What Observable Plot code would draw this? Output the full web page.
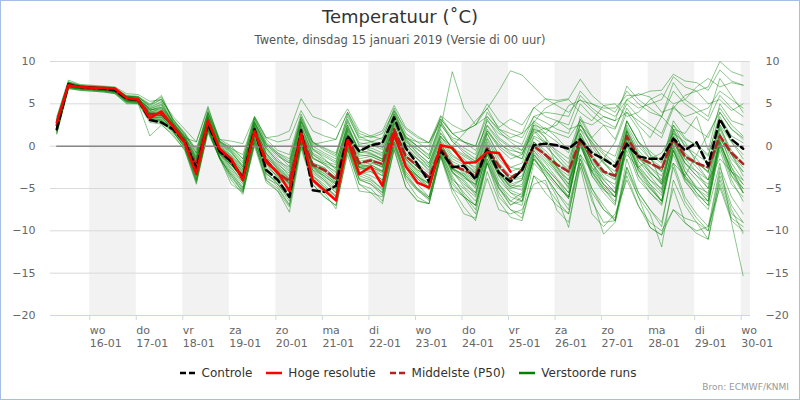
<!DOCTYPE html>
<html><head><meta charset="utf-8">
<script src="https://cdn.jsdelivr.net/npm/d3@7"></script>
<script src="https://cdn.jsdelivr.net/npm/@observablehq/plot@0.6"></script>
<style>
body{margin:0;background:#fff;font-family:"DejaVu Sans",sans-serif;}
#wrap{position:relative;width:800px;height:400px;overflow:hidden;background:#fff;}
#title{position:absolute;left:0;width:800px;top:6px;text-align:center;font-size:18px;color:#333;}
#subtitle{position:absolute;left:0;width:800px;top:33px;text-align:center;font-size:11.5px;color:#555;}
#plot{position:absolute;left:0;top:50px;}
#legend{position:absolute;left:8px;width:800px;top:366px;display:flex;justify-content:center;gap:14px;font-size:12px;color:#333;}
.item{display:flex;align-items:center;gap:6px;}
#credit{position:absolute;right:11px;top:382px;font-size:9px;color:#999;}
#frame{position:absolute;left:0;top:0;width:800px;height:400px;box-sizing:border-box;border:1px solid #a3bfe3;pointer-events:none;}
</style></head>
<body>
<div id="wrap">
<div id="title">Temperatuur (˚C)</div>
<div id="subtitle">Twente, dinsdag 15 januari 2019 (Versie di 00 uur)</div>
<div id="plot"></div>
<div id="legend"></div>
<div id="credit">Bron: ECMWF/KNMI</div>
<div id="frame"></div>
</div>
<script>
// Day labels (x axis)
const dayNames = ["wo","do","vr","za","zo","ma","di","wo","do","vr","za","zo","ma","di","wo"];
const dayDates = ["16-01","17-01","18-01","19-01","20-01","21-01","22-01","23-01","24-01","25-01","26-01","27-01","28-01","29-01","30-01"];
const shadedDays = [1,3,5,7,9,11,13,15];
const yTicks = [-20,-15,-10,-5,0,5,10];

// Lead times (hours after 15-01 00 UTC), local time = UTC+1
const leadHours = d3.range(6, 361, 6);

const controle = [2.0,7.3,7.0,6.9,6.8,6.6,5.6,5.5,3.1,2.8,2.0,0.5,
 -2.6,2.6,-0.6,-1.8,-3.8,2.0,-2.8,-4.0,-6.0,1.9,-5.2,-5.4,-4.7,
 1.2,-0.6,0.1,0.4,3.4,-0.2,-2.1,-4.2,-0.5,-2.5,-2.3,-3.9,-0.3,-3.1,-4.2,
 -2.8,0.1,0.3,0.1,-0.3,0.8,-0.8,-1.5,-2.4,0.25,-1.2,-1.5,-1.5,0.9,-0.5,0.45,-2.3,3.2,0.8,-0.3];

const hogeResolutie = [2.8,7.2,7.0,6.9,6.9,6.8,5.7,5.5,3.3,4.1,2.3,0.4,
 -3.3,3.0,-0.3,-1.5,-4.0,1.8,-1.9,-3.1,-5.3,1.5,-4.0,-5.2,-6.4,
 0.7,-3.3,-2.4,-4.7,1.5,-2.4,-4.3,-4.9,0.1,-0.2,-2.0,-1.9,-0.7,-0.8,-3.0];

const middelste = [2.5,7.2,7.0,6.9,6.8,6.6,5.6,5.4,3.8,3.8,2.4,0.6,
 -2.2,2.9,-0.6,-1.9,-3.6,1.8,-1.6,-3.2,-4.1,1.5,-2.2,-2.8,-3.9,
 1.2,-2.0,-1.7,-2.1,2.0,-1.2,-2.3,-3.7,-0.1,-2.3,-2.8,-3.5,-0.3,-2.3,-3.8,
 -2.8,0.0,-1.0,-2.2,-3.0,0.8,-1.3,-3.0,-3.5,1.2,-1.3,-2.0,-2.7,0.9,-1.2,-2.0,-2.5,1.2,-0.8,-2.1];

// Perturbed runs
const run01 = [3.1,7.5,7.1,7.0,6.9,6.8,5.9,5.8,4.6,5.3,2.9,1.2, -1.0,3.8,0.4,-0.6,-2.5,2.8,0.2,-1.0,-2.0,3.2,-0.3,-1.5,-2.8, 2.5,-0.8,-0.5,-1.0,3.0,0.6,-0.8,-2.0,1.2,-0.5,-1.8,-2.5,1.8,-0.2,-1.5, -1.0,2.8,1.5,0.5,-0.8,3.2,0.8,-0.5,-1.2,2.9,0.5,-0.6,-1.8,2.5,0.8,0.2,-1.0,3.5,1.2,0.4];
const run02 = [1.5,6.9,6.7,6.6,6.5,6.3,5.2,5.1,3.0,2.8,1.6,0.0, -3.8,2.2,-1.4,-3.5,-5.2,0.8,-3.5,-4.8,-6.9,0.5,-4.0,-5.2,-6.5, 0.2,-3.9,-4.5,-5.8,0.8,-3.2,-5.0,-6.2,-0.8,-3.5,-5.8,-7.5,-1.5,-4.8,-6.9, -6.5,-1.5,-3.2,-4.8,-6.0,0.5,-3.0,-4.8,-6.0,0.2,-3.5,-5.0,-6.5,-0.5,-3.8,-5.0,-6.0,0.0,-3.5,-5.5];
const run03 = [2.6,7.3,7.0,6.9,6.8,6.7,5.7,5.5,3.9,4.1,2.5,0.8, -2.0,3.1,-0.3,-1.7,-3.4,2.1,-1.3,-2.6,-4.0,1.6,-2.0,-2.6,-3.7, 1.4,-1.8,-1.5,-2.3,2.2,-1.0,-2.5,-3.9,0.3,-1.8,-2.5,-3.2,0.2,-2.5,-4.0, -3.5,0.5,-0.5,-2.0,-3.2,1.5,-1.0,-2.8,-3.9,1.5,-1.5,-2.5,-3.5,0.5,-1.5,-2.0,-3.0,0.8,-1.0,-2.5];
const run04 = [2.9,7.4,7.1,7.0,6.9,6.7,5.8,5.6,4.2,4.8,2.7,1.0, -1.5,3.5,0.0,-1.2,-2.8,2.6,-0.5,-2.0,-3.5,2.2,-1.0,-2.0,-2.5, 2.0,-0.5,-0.2,-0.8,3.2,0.5,-0.4,-1.5,2.2,8.8,4.5,2.5,3.5,1.8,0.5, -0.5,2.2,1.0,-0.8,-2.0,2.5,0.2,-1.5,-2.5,1.8,-0.8,-2.5,-4.0,0.5,-2.0,-3.5,-5.0,0.2,-2.5,-4.5];
const run05 = [2.3,7.1,6.9,6.8,6.7,6.5,5.5,5.3,3.6,3.5,2.2,0.5, -2.5,2.8,-0.8,-2.2,-3.8,1.6,-1.5,-3.0,-4.5,1.0,-2.8,-3.5,-4.8, 0.8,-2.2,-2.5,-3.0,1.8,-0.5,-1.5,-2.5,1.0,0.0,1.5,3.0,4.4,6.5,8.9, 8.4,7.0,5.6,4.8,4.0,5.5,4.2,3.0,2.2,5.0,3.5,2.5,1.5,4.8,3.0,2.0,1.0,4.5,2.5,1.2];
const run06 = [2.0,7.0,6.8,6.7,6.6,6.4,5.4,5.2,3.4,3.2,2.0,0.3, -3.0,2.5,-1.0,-2.8,-4.5,1.2,-2.8,-4.0,-5.5,0.8,-3.2,-4.2,-5.5, 0.5,-3.0,-3.5,-4.2,1.0,-2.0,-3.5,-5.0,-0.5,-3.0,-4.5,-5.5,-0.8,-3.5,-5.5, -6.0,-1.5,-3.0,-4.5,-6.0,0.5,-3.5,-5.5,-7.0,0.0,-3.5,-5.5,-7.0,-0.5,-4.0,-6.0,-7.5,-2.0,-9.0,-15.3];
const run07 = [2.7,7.3,7.0,6.9,6.8,6.6,5.6,5.5,4.0,4.5,2.6,0.9, -1.8,3.3,-0.2,-1.5,-3.0,2.4,-0.8,-2.2,-3.2,2.5,-1.0,-1.8,-2.2, 2.8,0.2,0.5,-0.2,3.5,1.0,0.0,-1.0,2.5,0.8,-0.2,-1.0,3.0,1.5,0.8, 0.2,3.5,2.8,2.0,1.5,5.0,3.5,2.5,2.0,5.5,4.5,5.0,5.5,8.2,7.0,6.5,7.0,10.0,8.8,8.3];
const run08 = [1.8,6.9,6.8,6.7,6.6,6.4,5.3,5.2,3.2,3.0,1.8,-0.2, -4.2,2.0,-1.3,-3.2,-5.0,1.0,-3.0,-4.5,-6.0,0.5,-3.8,-5.0,-6.2, 0.0,-3.5,-4.0,-5.0,0.5,-3.0,-4.5,-6.0,-0.5,-3.8,-5.5,-7.0,-1.0,-4.5,-6.5, -7.0,-1.2,-3.5,-5.5,-7.5,-1.5,-5.0,-7.5,-8.5,-2.5,-5.5,-7.5,-9.5,-2.0,-6.0,-8.0,-9.5,-2.5,-6.0,-8.0];
const run09 = [3.3,7.6,7.2,7.1,7.0,6.9,6.0,5.9,5.0,5.8,3.2,1.6, -0.5,4.2,0.8,0.0,-1.5,3.4,0.8,-0.5,-1.0,3.8,0.5,-0.2,-0.8, 3.5,1.0,1.2,0.8,4.5,1.5,0.5,-0.5,3.5,1.5,0.5,-0.5,2.5,0.8,-0.2, -1.0,2.0,1.5,3.0,2.0,2.5,1.0,2.5,0.8,4.5,2.5,1.0,3.5,2.0,1.5,3.5,-0.5,5.0,3.0,2.5];
const run10 = [2.4,7.2,6.9,6.8,6.7,6.6,5.6,5.4,3.7,3.6,2.3,0.6, -2.8,2.7,-0.7,-2.0,-4.0,1.5,-1.8,-3.3,-4.8,1.2,-2.5,-3.8,-5.0, 0.6,-2.8,-2.5,-3.5,1.5,-1.8,-3.2,-4.5,0.0,-2.8,-3.8,-4.5,0.5,-3.0,-4.8, -5.2,-0.5,-2.0,-3.8,-5.5,0.5,-2.8,-4.5,-6.0,1.0,-2.5,-4.0,-5.5,0.0,-3.5,-5.0,-6.5,0.5,-3.0,-5.0];
const run11 = [2.1,7.0,6.8,6.7,6.6,6.5,5.4,5.3,3.3,3.1,1.9,0.1, -3.5,2.3,-1.2,-3.0,-4.8,0.9,-3.2,-4.5,-6.2,0.3,-3.5,-4.8,-6.0, -0.2,-3.8,-4.2,-5.5,0.3,-3.5,-5.2,-6.4,-1.0,-5.0,-7.2,-8.8,-3.0,-6.5,-8.4, -8.8,-3.5,-4.5,-6.5,-8.0,-1.0,-5.0,-7.0,-8.8,-1.5,-5.5,-7.5,-9.0,-2.5,-6.5,-8.5,-10.0,-3.0,-7.0,-9.0];
const run12 = [2.8,7.4,7.0,6.9,6.8,6.7,5.7,5.6,4.4,5.0,2.8,1.1, -1.2,3.6,0.2,-0.8,-2.2,2.9,0.0,-1.2,-2.0,3.0,0.0,-0.8,-1.5, 3.2,0.0,-0.5,-1.2,3.8,0.8,-0.8,-2.0,2.0,-0.5,-1.5,-2.8,1.5,-1.0,-2.5, -2.0,2.0,0.5,-1.0,-2.5,3.5,1.0,-0.8,-2.0,3.0,0.5,-1.0,-2.0,3.0,1.0,0.0,-1.2,4.0,2.0,0.8];
const run13 = [1.6,6.8,6.6,6.5,6.4,6.2,5.1,5.0,1.2,2.5,1.4,-0.5, -4.5,1.8,-1.5,-4.0,-5.7,0.3,-4.0,-5.0,-7.0,0.0,-4.2,-5.5,-7.4, -0.5,-4.5,-5.0,-6.5,0.0,-4.0,-6.0,-6.8,-1.2,-4.5,-6.0,-7.0,-2.0,-5.5,-7.5, -8.0,-2.0,-3.5,-5.5,-7.0,-1.5,-5.5,-7.5,-8.8,-2.5,-6.0,-8.0,-11.9,-4.0,-7.0,-9.0,-11.0,-3.5,-7.5,-10.3];
const run14 = [3.0,7.5,7.1,7.0,7.0,6.9,5.9,5.8,4.8,6.0,3.0,1.4, -0.8,4.0,0.6,-0.3,-1.0,3.5,1.0,1.2,1.8,5.6,3.5,3.0,2.2, 4.4,1.8,1.2,1.8,4.8,2.2,1.2,0.4,3.6,2.5,1.8,2.5,5.0,3.0,2.0, 1.5,4.6,3.5,3.0,2.5,6.0,4.5,3.5,3.0,7.1,5.5,4.5,3.5,6.5,5.0,4.0,3.0,6.0,4.5,3.5];
const run15 = [2.5,7.2,7.0,6.9,6.8,6.6,5.6,5.5,3.8,3.9,2.4,0.7, -2.3,3.0,-0.5,-1.8,-3.5,1.9,-1.5,-3.0,-4.2,1.6,-2.0,-2.5,-4.0, 1.0,-2.0,-1.8,-2.5,2.0,-1.5,-2.8,-3.5,-0.2,-2.2,-3.0,-4.0,-0.5,-2.5,-3.8, -3.0,0.2,-1.2,-2.5,-3.5,0.8,-1.8,-3.2,-4.0,1.2,-1.8,-3.0,-4.5,0.8,-2.0,-3.0,-4.0,1.5,-1.5,-3.0];
const run16 = [3.5,7.8,7.3,7.2,7.1,7.0,6.2,6.1,5.3,5.5,3.5,2.0, 0.5,4.5,0.8,0.6,0.3,3.5,1.0,0.5,0.8,4.2,1.8,1.2,0.8, 4.0,1.5,1.0,1.5,4.2,2.0,1.0,0.4,3.2,1.5,0.5,0.0,3.5,2.0,1.0, 1.5,2.8,4.5,5.2,5.5,4.0,3.0,4.8,5.0,3.5,4.0,5.5,6.2,5.0,5.5,7.0,8.0,7.0,7.5,7.2];
const run17 = [2.2,7.1,6.9,6.8,6.7,6.5,5.5,5.3,3.5,3.3,2.1,0.4, -3.2,2.4,-0.8,-2.5,-4.2,1.3,-2.5,-3.5,-5.0,0.6,-3.0,-4.0,-5.2, 0.4,-2.5,-3.0,-4.0,1.2,-2.5,-3.8,-5.0,-0.5,-3.2,-4.0,-5.5,-1.0,-4.0,-5.5, -6.5,-1.0,-2.5,-4.0,-6.0,0.0,-3.0,-5.0,-6.5,0.5,-3.0,-5.0,-6.5,-0.5,-3.5,-5.5,-7.0,0.0,-4.0,-6.5];
const run18 = [2.7,7.3,7.0,6.9,6.8,6.7,5.7,5.5,4.1,4.3,2.5,0.8, -1.6,3.2,-0.4,-1.4,-3.2,2.3,-0.8,-2.4,-3.6,1.8,-1.5,-2.0,-3.2, 1.8,-1.2,-1.0,-1.5,2.6,0.0,-1.5,-3.0,0.8,-1.2,-2.0,-3.0,1.0,-1.5,-3.0, -2.5,1.2,0.5,-0.5,-1.5,2.5,0.5,-1.0,-2.5,2.5,0.0,-1.5,-2.5,2.0,0.0,-1.0,-2.0,2.5,0.5,-1.0];
const run19 = [1.9,7.0,6.8,6.7,6.6,6.4,5.3,5.2,3.2,2.9,1.7,-0.1, -4.0,2.0,-1.3,-3.8,-5.3,0.5,-3.8,-4.5,-6.5,0.2,-3.5,-4.5,-6.0, 0.0,-3.2,-3.8,-5.2,0.5,-3.5,-5.0,-6.0,-0.8,-4.2,-6.0,-7.0,-2.0,-5.0,-7.0, -6.0,-1.0,-2.8,-4.5,-6.2,0.2,-3.5,-5.2,-6.0,-0.5,-4.0,-5.5,-6.8,-1.0,-4.2,-5.8,-6.5,-0.5,-4.5,-6.0];
const run20 = [2.6,7.2,7.0,6.9,6.8,6.6,5.6,5.5,4.5,5.2,2.6,1.0, -1.3,3.4,0.1,-1.0,-2.5,2.7,-0.2,-1.5,-2.8,2.8,-0.5,-1.2,-2.0, 2.5,-0.5,-0.8,-1.5,3.0,0.2,-1.0,-2.5,1.5,-0.2,-1.0,-1.8,2.0,0.0,-1.0, -1.5,2.5,1.0,-2.5,-4.0,-1.0,-3.0,-1.5,0.5,4.0,2.0,-1.0,-4.5,-2.0,-3.5,-1.0,1.5,4.0,2.0,1.0];
const run21 = [2.0,7.0,6.8,6.7,6.6,6.5,5.4,5.3,3.4,3.4,2.0,0.2, -3.0,2.6,-1.0,-2.2,-4.0,1.5,-2.0,-3.8,-5.0,1.0,-2.5,-3.5,-4.5, 1.0,-2.5,-2.8,-3.5,1.0,-2.5,-3.5,-4.5,0.5,-2.5,-3.5,-5.0,0.0,-3.0,-5.0, -4.5,0.0,-1.5,-3.0,-5.0,1.0,-2.0,-4.0,-5.5,2.0,-1.0,-3.0,-4.5,1.5,-1.5,-3.0,-5.0,2.0,-1.0,-3.5];
const run22 = [2.4,7.2,6.9,6.8,6.7,6.5,5.5,5.4,3.6,3.6,2.2,0.5, -2.6,2.9,-0.6,-2.0,-3.9,1.7,-1.8,-3.2,-4.6,1.3,-2.3,-3.6,-4.5, 0.9,-2.5,-2.2,-3.0,1.6,-2.0,-3.5,-4.8,0.0,-3.0,-4.8,-6.0,-1.5,-4.5,-6.0, -6.5,-1.5,-3.5,-6.0,-9.6,-2.0,-6.0,-10.4,-9.0,-3.5,-7.0,-9.6,-10.5,-5.0,-9.0,-10.3,-11.0,-4.5,-8.5,-9.5];
const run23 = [3.2,7.6,7.2,7.1,7.0,6.8,5.9,5.8,4.7,5.6,3.1,1.5, -0.8,3.9,0.5,-0.4,-1.8,3.2,0.5,-0.8,-1.5,3.5,0.5,-0.5,-1.2, 3.8,0.8,0.6,0.2,4.0,1.2,0.0,-1.2,3.0,0.5,-0.5,-1.5,3.2,1.0,0.0, -0.5,3.0,2.0,2.5,4.8,5.4,5.0,4.2,3.5,5.5,6.2,5.8,4.0,4.5,6.0,6.5,5.0,5.5,4.2,5.0];
const run24 = [2.2,7.1,6.9,6.8,6.7,6.5,5.5,5.4,3.7,3.8,2.3,0.5, -2.2,2.8,-0.6,-2.3,-3.6,2.0,-1.2,-2.8,-4.2,1.5,-2.2,-3.0,-4.2, 1.2,-2.0,-1.8,-2.5,1.9,-1.2,-2.5,-3.5,0.2,-2.0,-3.2,-4.2,0.0,-2.8,-4.5, -4.0,0.5,-0.8,-2.5,-4.5,1.2,-2.0,-4.5,-6.0,0.5,-2.5,-4.5,-6.5,0.8,-3.0,-5.0,-6.5,1.5,-2.5,-5.5];
const run25 = [1.4,6.8,6.6,6.5,6.4,6.2,5.0,5.0,2.8,2.6,1.2,-0.4, -4.3,1.6,-1.4,-3.5,-5.5,0.0,-4.3,-5.3,-7.8,-0.3,-4.5,-6.0,-7.0, -1.0,-5.3,-5.5,-6.8,-0.3,-4.8,-6.4,-6.8,-1.3,-5.5,-8.0,-8.5,-3.8,-7.5,-8.0, -7.5,-4.5,-4.0,-7.6,-9.0,-2.5,-8.0,-9.5,-8.0,-4.0,-7.1,-9.0,-10.0,-7.5,-9.1,-10.0,-9.5,-4.9,-8.8,-10.0];
const run26 = [3.0,7.4,7.1,7.0,6.9,6.8,5.8,5.7,4.3,4.6,2.8,1.0, 0.5,4.7,0.5,-0.5,-2.0,3.0,-0.2,-1.8,-2.5,2.8,-0.3,-1.0,-1.8, 2.2,-0.5,0.0,0.5,3.8,1.0,0.5,0.4,2.8,1.0,0.5,0.0,4.0,2.2,3.2, 2.5,4.5,5.6,5.4,5.6,7.9,6.0,4.8,4.0,6.5,5.0,4.0,3.5,7.5,5.5,4.5,3.5,8.0,6.0,4.0];
const run27 = [2.3,7.1,6.9,6.8,6.7,6.6,5.6,5.4,3.9,4.0,2.4,0.6, -2.4,3.0,-0.6,-1.9,-3.7,1.8,-1.7,-3.4,-4.4,1.4,-2.2,-3.0,-4.0, 1.1,-2.2,-2.0,-2.4,1.7,-1.5,-2.8,-3.8,-0.4,-2.6,-3.5,-4.6,-0.4,-3.0,-4.0, -3.8,0.3,-1.2,-3.0,-4.5,0.5,-2.5,-4.0,-5.5,1.0,-2.2,-4.0,-5.0,1.2,-2.0,-3.5,-4.5,0.5,-3.0,-4.5];
const run28 = [2.9,7.3,7.0,6.9,6.8,6.6,5.7,5.6,4.3,4.4,2.6,0.8, -1.9,3.1,-0.5,-1.6,-3.3,2.2,-1.0,-2.5,-3.8,1.9,-1.4,-2.2,-3.5, 1.6,-1.5,-1.2,-1.8,2.4,-0.8,-2.0,-3.2,0.6,-1.5,-2.2,-3.6,0.8,-2.0,-3.5, -3.0,1.0,0.0,-1.5,-2.8,2.0,-0.5,-2.0,-3.0,2.2,-0.5,-2.0,-3.0,1.8,-0.8,-2.0,-3.0,2.2,-0.5,-2.0];
const run29 = [1.7,6.9,6.7,6.6,6.5,6.3,5.2,5.1,3.1,3.0,1.7,-0.3, -3.6,2.1,-1.5,-3.3,-5.0,0.7,-3.3,-4.2,-6.0,0.4,-3.6,-4.8,-5.8, -0.3,-4.0,-4.5,-5.5,0.2,-3.8,-5.2,-6.2,-1.0,-4.0,-5.0,-6.5,-1.8,-5.0,-6.5, -5.5,-0.5,-2.5,-4.0,-5.5,0.8,-2.5,-4.5,-5.5,0.5,-2.8,-4.5,-5.8,0.2,-3.0,-4.8,-5.5,0.5,-3.5,-5.0];
const run30 = [2.6,7.3,7.0,6.9,6.8,6.6,5.6,5.4,3.8,3.7,2.3,0.6, -2.1,3.0,-0.5,-1.9,-3.5,1.9,-1.6,-3.1,-4.0,1.6,-2.1,-2.8,-3.9, 1.3,-2.1,-1.6,-2.2,2.1,-1.3,-2.4,-3.7,-0.1,-2.4,-2.9,-3.6,-0.4,-2.4,-3.9, -2.9,0.1,-1.0,-2.2,-3.1,0.9,-1.3,-3.1,-3.6,1.3,-1.4,-2.1,-2.8,1.0,-1.2,-2.1,-2.6,1.3,-0.9,-2.2];
const run31 = [3.1,7.5,7.1,7.0,6.9,6.8,5.9,5.8,4.9,5.5,3.2,1.3, -0.3,4.0,0.6,-0.2,-1.5,3.3,0.3,-0.8,-1.8,3.4,0.2,0.5,0.8, 4.0,1.2,0.5,1.0,4.2,1.0,0.0,0.0,3.2,1.5,1.8,2.5,4.5,2.0,1.5, 1.0,3.5,4.0,3.8,3.5,6.5,5.0,4.5,4.5,6.0,6.0,6.5,6.6,8.5,7.7,7.5,6.6,9.0,7.7,7.2];
const run32 = [1.9,7.0,6.8,6.7,6.6,6.4,5.3,5.2,3.3,3.1,1.9,0.0, -4.0,1.9,-1.4,-4.5,-5.4,0.4,-4.0,-5.3,-7.2,0.2,-4.5,-6.0,-7.0, -0.4,-4.5,-5.5,-6.0,-0.5,-4.8,-6.5,-6.8,-1.2,-5.0,-6.0,-8.0,-2.0,-6.0,-7.5, -8.5,-3.5,-5.5,-7.0,-8.0,-2.0,-6.5,-9.0,-8.8,-3.0,-6.0,-9.6,-10.5,-7.5,-8.5,-9.0,-10.0,-4.0,-8.0,-9.0];
const run33 = [2.4,7.2,7.0,6.9,6.8,6.6,5.6,5.5,4.0,4.2,2.5,0.7, -2.4,3.1,-0.2,-1.3,-3.0,2.3,-0.9,-2.7,-3.9,2.0,-1.3,-2.2,-3.0, 1.9,-1.0,-1.2,-1.8,2.7,-0.4,-1.5,-2.8,1.2,-1.0,-2.0,-3.2,1.5,-1.2,-2.5, -2.8,1.8,0.2,-1.5,-3.0,2.8,0.0,-2.0,-3.5,3.0,0.5,-1.5,-3.0,2.5,0.0,-1.5,-3.2,3.0,0.5,-1.5];
const run34 = [2.1,7.1,6.9,6.7,6.6,6.5,5.5,5.3,3.5,3.4,2.1,0.3, -2.9,2.6,-0.9,-2.6,-4.3,1.4,-2.2,-3.6,-5.2,0.9,-2.8,-4.0,-5.5, 0.6,-3.2,-3.0,-4.0,1.3,-2.2,-3.8,-5.2,-0.3,-3.0,-4.2,-5.8,-0.6,-3.5,-5.2, -5.8,-0.8,-2.8,-4.5,-6.2,0.2,-3.2,-5.0,-6.8,0.8,-2.8,-4.8,-6.5,-0.2,-3.8,-5.5,-7.0,0.8,-3.0,-5.5];
const run35 = [2.7,7.3,7.1,6.9,6.8,6.7,5.7,5.6,4.2,4.6,2.7,0.9, -1.7,3.3,-0.1,-1.1,-2.7,2.5,-0.3,-1.8,-3.0,2.4,-0.8,-1.6,-2.6, 2.2,-0.7,-0.9,-1.6,2.8,0.3,-1.2,-2.2,1.6,-0.3,-1.2,-2.0,1.8,0.2,-0.5, -0.8,1.5,2.2,1.0,-0.5,2.0,0.5,-1.8,-3.5,-1.0,-2.5,-1.5,-0.8,1.5,0.5,-2.0,-4.0,-1.5,-3.0,-4.0];
const run36 = [2.2,7.0,6.8,6.8,6.7,6.5,5.5,5.4,3.6,3.7,2.2,0.4, -2.7,2.7,-0.8,-2.2,-3.9,1.6,-1.6,-3.0,-4.4,1.4,-2.4,-3.3,-4.3, 0.9,-2.6,-2.4,-3.2,1.4,-2.3,-3.6,-4.4,0.1,-2.7,-3.6,-4.8,-0.7,-3.3,-4.6, -4.8,-0.2,-1.8,-3.2,-4.8,1.5,-1.5,-3.5,-5.0,1.8,-1.8,-3.5,-5.2,1.0,-2.5,-4.0,-5.8,1.2,-2.0,-4.0];
const run37 = [2.8,7.4,7.1,7.0,6.9,6.8,5.8,5.7,4.4,4.9,2.8,1.1, -1.4,3.6,0.3,-0.7,-2.4,2.8,0.2,-1.0,-2.4,3.0,0.4,-0.3,-1.0, 3.0,0.4,0.2,-0.4,3.4,0.8,-0.3,-1.5,2.6,0.6,-0.8,-1.8,2.4,0.5,-0.8, -1.5,2.5,2.0,1.5,1.0,3.0,2.5,3.5,3.0,4.0,3.0,2.0,1.0,4.5,3.5,4.0,4.5,6.5,5.5,4.5];
const run38 = [2.5,7.2,7.0,6.9,6.8,6.6,5.6,5.5,3.7,3.6,2.3,0.5, -2.2,2.9,-0.6,-2.0,-3.8,1.7,-1.9,-3.3,-4.3,1.5,-2.3,-3.2,-4.4, 1.0,-2.4,-2.2,-2.9,1.8,-1.6,-3.0,-4.2,-0.2,-2.7,-3.3,-4.5,-0.8,-3.4,-4.8, -4.0,0.5,-1.0,-2.8,-4.0,1.0,-2.0,-3.8,-4.5,1.8,-1.2,-3.2,-4.2,2.0,-1.0,-2.5,-4.0,2.5,-1.0,-3.0];

const runs = [run01,run02,run03,run04,run05,run06,run07,run08,run09,run10,run11,run12,run13,run14,run15,run16,run17,run18,run19,
              run20,run21,run22,run23,run24,run25,run26,run27,run28,run29,run30,run31,run32,run33,run34,run35,run36,run37,run38];

// tables (x = hours after 15-01 00:00 local time)
const toRows = (vals) => vals.map((v, i) => ({t: leadHours[i] + 1, v}));
const runRows = runs.flatMap((r, k) => toRows(r).map(d => ({...d, run: k})));
const zeroRows = leadHours.map(h => ({t: h + 1, v: 0}));
const dayTicks = dayNames.map((_, i) => (i + 1) * 24);

const chart = Plot.plot({
  width: 800, height: 300,
  marginLeft: 50, marginRight: 50, marginTop: 11, marginBottom: 35,
  style: {fontFamily: "DejaVu Sans", fontSize: "11px", background: "transparent", color: "#666"},
  x: {domain: [3.77, 364.8]},
  y: {domain: [-20, 10]},
  marks: [
    Plot.rect(shadedDays, {x1: d => d * 24, x2: d => d * 24 + 24, y1: -20, y2: 10, fill: "#f2f2f2", clip: true}),
    Plot.ruleY(yTicks.filter(d => d > -20), {stroke: "#d9d9d9", strokeWidth: 1}),
    Plot.ruleY([-20], {stroke: "#ccd6eb", strokeWidth: 1}),
    Plot.line(runRows, {x: "t", y: "v", z: "run", stroke: "#008000", strokeWidth: 0.9, strokeOpacity: 0.5}),
    Plot.line(zeroRows, {x: "t", y: "v", stroke: "#888", strokeWidth: 1.5}),
    Plot.line(toRows(middelste), {x: "t", y: "v", stroke: "#b22222", strokeWidth: 2.5, strokeDasharray: "7,4"}),
    Plot.line(toRows(controle), {x: "t", y: "v", stroke: "#000", strokeWidth: 2.5, strokeDasharray: "7,4"}),
    Plot.line(toRows(hogeResolutie), {x: "t", y: "v", stroke: "#ff0000", strokeWidth: 2.5}),
    Plot.axisY({anchor: "left", ticks: yTicks, tickSize: 0, tickPadding: 15, label: null, fill: "#666", fontSize: 11}),
    Plot.axisY({anchor: "right", ticks: yTicks, tickSize: 0, tickPadding: 15, label: null, fill: "#666", fontSize: 11}),
    Plot.axisX({ticks: dayTicks, tickSize: 5, tickPadding: 4, stroke: "#ccd6eb", fill: "#666", fontSize: 11,
      textAnchor: "start", lineHeight: 1.2, label: null,
      tickFormat: d => { const i = Math.round(d / 24) - 1; return dayNames[i] + "\n" + dayDates[i]; }})
  ]
});
document.getElementById("plot").appendChild(chart);

// Legend
const legendItems = [
  {label: "Controle", color: "#000", dash: "6,3"},
  {label: "Hoge resolutie", color: "#ff0000", dash: null},
  {label: "Middelste (P50)", color: "#b22222", dash: "6,3"},
  {label: "Verstoorde runs", color: "#008000", dash: null}
];
const legend = document.getElementById("legend");
for (const it of legendItems) {
  const div = document.createElement("div");
  div.className = "item";
  div.innerHTML = `<svg width="16" height="6"><line x1="0" y1="3" x2="16" y2="3" stroke="${it.color}" stroke-width="2.5" ${it.dash ? `stroke-dasharray="${it.dash}"` : ""}/></svg><span>${it.label}</span>`;
  legend.appendChild(div);
}
</script>
</body></html>
